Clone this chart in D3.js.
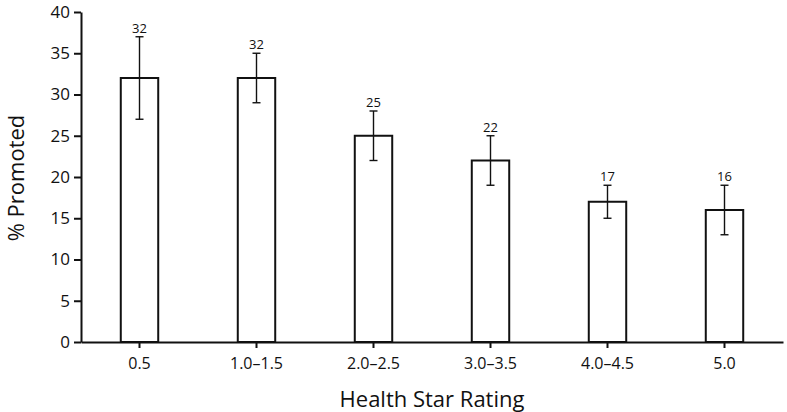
<!DOCTYPE html>
<html>
<head>
<meta charset="utf-8">
<script src="https://cdn.jsdelivr.net/npm/d3@7"></script>
<style>
  body { margin: 0; background: #fff; }
  svg text { font-family: "Open Sans", "Noto Sans", sans-serif; fill: #111; }
</style>
</head>
<body>
<div id="chart"></div>
<script>
const categories = ["0.5", "1.0\u20131.5", "2.0\u20132.5", "3.0\u20133.5", "4.0\u20134.5", "5.0"]
const values = [32, 32, 25, 22, 17, 16]
const errLow = [27, 29, 22, 19, 15, 13]
const errHigh = [37, 35, 28, 25, 19, 19]
const yTicks = [0, 5, 10, 15, 20, 25, 30, 35, 40]

const W = 787, H = 412
const m = { left: 81, right: 4, top: 12, bottom: 70 }
const w = W - m.left - m.right
const h = H - m.top - m.bottom

const svg = d3.select("#chart").append("svg")
  .attr("width", W).attr("height", H)
const g = svg.append("g").attr("transform", `translate(${m.left},${m.top})`)

const x = d3.scaleBand().domain(categories).range([0, w]).padding(0)
const y = d3.scaleLinear().domain([0, 40]).range([h, 0])
const barW = x.bandwidth() * 0.32

const rows = categories.map((c, i) => ({ c, v: values[i], lo: errLow[i], hi: errHigh[i] }))

// bars
g.selectAll("rect.bar").data(rows).enter().append("rect")
  .attr("class", "bar")
  .attr("x", d => x(d.c) + x.bandwidth() / 2 - barW / 2)
  .attr("y", d => y(d.v))
  .attr("width", barW)
  .attr("height", d => h - y(d.v))
  .attr("fill", "#fff")
  .attr("stroke", "#111")
  .attr("stroke-width", 2)

// error bars
const cx = d => x(d.c) + x.bandwidth() / 2
const eb = g.selectAll("g.err").data(rows).enter().append("g").attr("class", "err")
  .attr("stroke", "#111").attr("stroke-width", 1.4)
eb.append("line").attr("x1", cx).attr("x2", cx).attr("y1", d => y(d.lo)).attr("y2", d => y(d.hi))
eb.append("line").attr("x1", d => cx(d) - 4).attr("x2", d => cx(d) + 4).attr("y1", d => y(d.hi)).attr("y2", d => y(d.hi))
eb.append("line").attr("x1", d => cx(d) - 4).attr("x2", d => cx(d) + 4).attr("y1", d => y(d.lo)).attr("y2", d => y(d.lo))

// value labels
g.selectAll("text.val").data(rows).enter().append("text")
  .attr("class", "val")
  .attr("x", cx)
  .attr("y", d => y(d.hi) - 4)
  .attr("text-anchor", "middle")
  .attr("font-size", "13px")
  .text(d => d.v)

// axes
const yAxis = g.append("g")
  .call(d3.axisLeft(y).tickValues(yTicks).tickSize(7).tickSizeOuter(0).tickPadding(4))
yAxis.select(".domain").attr("stroke", "#111").attr("stroke-width", 2)
yAxis.selectAll(".tick line").attr("stroke", "#111").attr("stroke-width", 2)
yAxis.selectAll(".tick text").attr("font-size", "17px")

const xAxis = g.append("g").attr("transform", `translate(0,${h})`)
  .call(d3.axisBottom(x).tickSize(6).tickSizeOuter(0).tickPadding(10))
xAxis.select(".domain").attr("stroke", "#111").attr("stroke-width", 2)
xAxis.selectAll(".tick line").attr("stroke", "#111").attr("stroke-width", 2)
xAxis.selectAll(".tick text").attr("font-size", "16px")

// titles
g.append("text")
  .attr("x", w / 2)
  .attr("y", h + 65)
  .attr("text-anchor", "middle")
  .attr("font-size", "22px")
  .text("Health Star Rating")
g.append("text")
  .attr("transform", "rotate(-90)")
  .attr("x", -h / 2 - 1)
  .attr("y", -57)
  .attr("text-anchor", "middle")
  .attr("font-size", "22px")
  .text("% Promoted")
</script>
</body>
</html>
